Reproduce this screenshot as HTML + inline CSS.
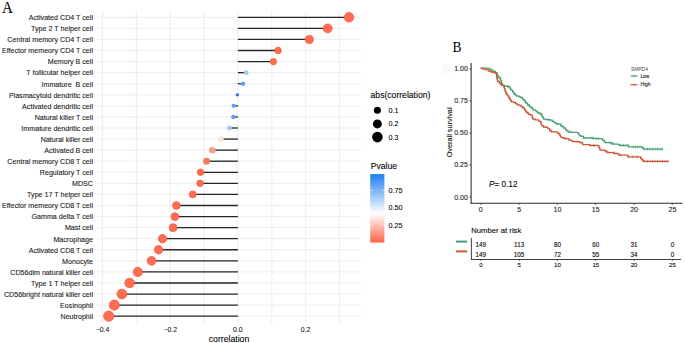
<!DOCTYPE html>
<html><head><meta charset="utf-8"><style>
html,body{margin:0;padding:0;background:#fff;}
svg{display:block;font-family:"Liberation Sans",sans-serif;}
text{stroke:#1a1a1a;stroke-width:0.1px;}
</style></head><body>
<svg width="685" height="343" viewBox="0 0 685 343">
<rect width="685" height="343" fill="#fff"/>
<text transform="translate(2.1,12.75) scale(0.93,1)" font-family="Liberation Serif" font-size="16.2" fill="#000" style="stroke:none">A</text>
<line x1="97.0" y1="17.30" x2="361.0" y2="17.30" stroke="#ebebeb" stroke-width="0.9"/>
<line x1="97.0" y1="28.37" x2="361.0" y2="28.37" stroke="#ebebeb" stroke-width="0.9"/>
<line x1="97.0" y1="39.44" x2="361.0" y2="39.44" stroke="#ebebeb" stroke-width="0.9"/>
<line x1="97.0" y1="50.51" x2="361.0" y2="50.51" stroke="#ebebeb" stroke-width="0.9"/>
<line x1="97.0" y1="61.58" x2="361.0" y2="61.58" stroke="#ebebeb" stroke-width="0.9"/>
<line x1="97.0" y1="72.65" x2="361.0" y2="72.65" stroke="#ebebeb" stroke-width="0.9"/>
<line x1="97.0" y1="83.72" x2="361.0" y2="83.72" stroke="#ebebeb" stroke-width="0.9"/>
<line x1="97.0" y1="94.79" x2="361.0" y2="94.79" stroke="#ebebeb" stroke-width="0.9"/>
<line x1="97.0" y1="105.86" x2="361.0" y2="105.86" stroke="#ebebeb" stroke-width="0.9"/>
<line x1="97.0" y1="116.93" x2="361.0" y2="116.93" stroke="#ebebeb" stroke-width="0.9"/>
<line x1="97.0" y1="128.00" x2="361.0" y2="128.00" stroke="#ebebeb" stroke-width="0.9"/>
<line x1="97.0" y1="139.07" x2="361.0" y2="139.07" stroke="#ebebeb" stroke-width="0.9"/>
<line x1="97.0" y1="150.14" x2="361.0" y2="150.14" stroke="#ebebeb" stroke-width="0.9"/>
<line x1="97.0" y1="161.21" x2="361.0" y2="161.21" stroke="#ebebeb" stroke-width="0.9"/>
<line x1="97.0" y1="172.28" x2="361.0" y2="172.28" stroke="#ebebeb" stroke-width="0.9"/>
<line x1="97.0" y1="183.35" x2="361.0" y2="183.35" stroke="#ebebeb" stroke-width="0.9"/>
<line x1="97.0" y1="194.42" x2="361.0" y2="194.42" stroke="#ebebeb" stroke-width="0.9"/>
<line x1="97.0" y1="205.49" x2="361.0" y2="205.49" stroke="#ebebeb" stroke-width="0.9"/>
<line x1="97.0" y1="216.56" x2="361.0" y2="216.56" stroke="#ebebeb" stroke-width="0.9"/>
<line x1="97.0" y1="227.63" x2="361.0" y2="227.63" stroke="#ebebeb" stroke-width="0.9"/>
<line x1="97.0" y1="238.70" x2="361.0" y2="238.70" stroke="#ebebeb" stroke-width="0.9"/>
<line x1="97.0" y1="249.77" x2="361.0" y2="249.77" stroke="#ebebeb" stroke-width="0.9"/>
<line x1="97.0" y1="260.84" x2="361.0" y2="260.84" stroke="#ebebeb" stroke-width="0.9"/>
<line x1="97.0" y1="271.91" x2="361.0" y2="271.91" stroke="#ebebeb" stroke-width="0.9"/>
<line x1="97.0" y1="282.98" x2="361.0" y2="282.98" stroke="#ebebeb" stroke-width="0.9"/>
<line x1="97.0" y1="294.05" x2="361.0" y2="294.05" stroke="#ebebeb" stroke-width="0.9"/>
<line x1="97.0" y1="305.12" x2="361.0" y2="305.12" stroke="#ebebeb" stroke-width="0.9"/>
<line x1="97.0" y1="316.19" x2="361.0" y2="316.19" stroke="#ebebeb" stroke-width="0.9"/>
<line x1="102.50" y1="10.7" x2="102.50" y2="322.9" stroke="#ebebeb" stroke-width="0.9"/>
<line x1="136.35" y1="10.7" x2="136.35" y2="322.9" stroke="#ebebeb" stroke-width="0.9"/>
<line x1="170.20" y1="10.7" x2="170.20" y2="322.9" stroke="#ebebeb" stroke-width="0.9"/>
<line x1="204.05" y1="10.7" x2="204.05" y2="322.9" stroke="#ebebeb" stroke-width="0.9"/>
<line x1="237.90" y1="10.7" x2="237.90" y2="322.9" stroke="#ebebeb" stroke-width="0.9"/>
<line x1="271.75" y1="10.7" x2="271.75" y2="322.9" stroke="#ebebeb" stroke-width="0.9"/>
<line x1="305.60" y1="10.7" x2="305.60" y2="322.9" stroke="#ebebeb" stroke-width="0.9"/>
<line x1="339.45" y1="10.7" x2="339.45" y2="322.9" stroke="#ebebeb" stroke-width="0.9"/>
<text x="93" y="20.10" text-anchor="end" font-size="7.13" fill="#1a1a1a" xml:space="preserve">Activated CD4 T cell</text>
<text x="93" y="31.17" text-anchor="end" font-size="7.13" fill="#1a1a1a" xml:space="preserve">Type 2 T helper cell</text>
<text x="93" y="42.24" text-anchor="end" font-size="7.13" fill="#1a1a1a" xml:space="preserve">Central memory CD4 T cell</text>
<text x="93" y="53.31" text-anchor="end" font-size="7.13" fill="#1a1a1a" xml:space="preserve">Effector memeory CD4 T cell</text>
<text x="93" y="64.38" text-anchor="end" font-size="7.13" fill="#1a1a1a" xml:space="preserve">Memory B cell</text>
<text x="93" y="75.45" text-anchor="end" font-size="7.13" fill="#1a1a1a" xml:space="preserve">T follicular helper cell</text>
<text x="93" y="86.52" text-anchor="end" font-size="7.13" fill="#1a1a1a" xml:space="preserve">Immature  B cell</text>
<text x="93" y="97.59" text-anchor="end" font-size="7.13" fill="#1a1a1a" xml:space="preserve">Plasmacytoid dendritic cell</text>
<text x="93" y="108.66" text-anchor="end" font-size="7.13" fill="#1a1a1a" xml:space="preserve">Activated dendritic cell</text>
<text x="93" y="119.73" text-anchor="end" font-size="7.13" fill="#1a1a1a" xml:space="preserve">Natural killer T cell</text>
<text x="93" y="130.80" text-anchor="end" font-size="7.13" fill="#1a1a1a" xml:space="preserve">Immature dendritic cell</text>
<text x="93" y="141.87" text-anchor="end" font-size="7.13" fill="#1a1a1a" xml:space="preserve">Natural killer cell</text>
<text x="93" y="152.94" text-anchor="end" font-size="7.13" fill="#1a1a1a" xml:space="preserve">Activated B cell</text>
<text x="93" y="164.01" text-anchor="end" font-size="7.13" fill="#1a1a1a" xml:space="preserve">Central memory CD8 T cell</text>
<text x="93" y="175.08" text-anchor="end" font-size="7.13" fill="#1a1a1a" xml:space="preserve">Regulatory T cell</text>
<text x="93" y="186.15" text-anchor="end" font-size="7.13" fill="#1a1a1a" xml:space="preserve">MDSC</text>
<text x="93" y="197.22" text-anchor="end" font-size="7.13" fill="#1a1a1a" xml:space="preserve">Type 17 T helper cell</text>
<text x="93" y="208.29" text-anchor="end" font-size="7.13" fill="#1a1a1a" xml:space="preserve">Effector memeory CD8 T cell</text>
<text x="93" y="219.36" text-anchor="end" font-size="7.13" fill="#1a1a1a" xml:space="preserve">Gamma delta T cell</text>
<text x="93" y="230.43" text-anchor="end" font-size="7.13" fill="#1a1a1a" xml:space="preserve">Mast cell</text>
<text x="93" y="241.50" text-anchor="end" font-size="7.13" fill="#1a1a1a" xml:space="preserve">Macrophage</text>
<text x="93" y="252.57" text-anchor="end" font-size="7.13" fill="#1a1a1a" xml:space="preserve">Activated CD8 T cell</text>
<text x="93" y="263.64" text-anchor="end" font-size="7.13" fill="#1a1a1a" xml:space="preserve">Monocyte</text>
<text x="93" y="274.71" text-anchor="end" font-size="7.13" fill="#1a1a1a" xml:space="preserve">CD56dim natural killer cell</text>
<text x="93" y="285.78" text-anchor="end" font-size="7.13" fill="#1a1a1a" xml:space="preserve">Type 1 T helper cell</text>
<text x="93" y="296.85" text-anchor="end" font-size="7.13" fill="#1a1a1a" xml:space="preserve">CD56bright natural killer cell</text>
<text x="93" y="307.92" text-anchor="end" font-size="7.13" fill="#1a1a1a" xml:space="preserve">Eosinophil</text>
<text x="93" y="318.99" text-anchor="end" font-size="7.13" fill="#1a1a1a" xml:space="preserve">Neutrophil</text>
<text x="102.50" y="332.1" text-anchor="middle" font-size="6.9" fill="#1a1a1a">−0.4</text>
<text x="170.20" y="332.1" text-anchor="middle" font-size="6.9" fill="#1a1a1a">−0.2</text>
<text x="237.90" y="332.1" text-anchor="middle" font-size="6.9" fill="#1a1a1a">0.0</text>
<text x="305.60" y="332.1" text-anchor="middle" font-size="6.9" fill="#1a1a1a">0.2</text>
<text x="229" y="341.6" text-anchor="middle" font-size="8.7" fill="#000">correlation</text>
<line x1="237.9" y1="17.30" x2="349.00" y2="17.30" stroke="#262626" stroke-width="1.3"/>
<line x1="237.9" y1="28.37" x2="327.70" y2="28.37" stroke="#262626" stroke-width="1.3"/>
<line x1="237.9" y1="39.44" x2="309.30" y2="39.44" stroke="#262626" stroke-width="1.3"/>
<line x1="237.9" y1="50.51" x2="278.00" y2="50.51" stroke="#262626" stroke-width="1.3"/>
<line x1="237.9" y1="61.58" x2="273.40" y2="61.58" stroke="#262626" stroke-width="1.3"/>
<line x1="237.9" y1="72.65" x2="246.20" y2="72.65" stroke="#262626" stroke-width="1.3"/>
<line x1="237.9" y1="83.72" x2="243.00" y2="83.72" stroke="#262626" stroke-width="1.3"/>
<line x1="237.9" y1="94.79" x2="237.40" y2="94.79" stroke="#262626" stroke-width="1.3"/>
<line x1="237.9" y1="105.86" x2="233.70" y2="105.86" stroke="#262626" stroke-width="1.3"/>
<line x1="237.9" y1="116.93" x2="233.30" y2="116.93" stroke="#262626" stroke-width="1.3"/>
<line x1="237.9" y1="128.00" x2="229.30" y2="128.00" stroke="#262626" stroke-width="1.3"/>
<line x1="237.9" y1="139.07" x2="220.90" y2="139.07" stroke="#262626" stroke-width="1.3"/>
<line x1="237.9" y1="150.14" x2="212.30" y2="150.14" stroke="#262626" stroke-width="1.3"/>
<line x1="237.9" y1="161.21" x2="206.50" y2="161.21" stroke="#262626" stroke-width="1.3"/>
<line x1="237.9" y1="172.28" x2="200.50" y2="172.28" stroke="#262626" stroke-width="1.3"/>
<line x1="237.9" y1="183.35" x2="200.10" y2="183.35" stroke="#262626" stroke-width="1.3"/>
<line x1="237.9" y1="194.42" x2="192.70" y2="194.42" stroke="#262626" stroke-width="1.3"/>
<line x1="237.9" y1="205.49" x2="176.40" y2="205.49" stroke="#262626" stroke-width="1.3"/>
<line x1="237.9" y1="216.56" x2="174.90" y2="216.56" stroke="#262626" stroke-width="1.3"/>
<line x1="237.9" y1="227.63" x2="173.10" y2="227.63" stroke="#262626" stroke-width="1.3"/>
<line x1="237.9" y1="238.70" x2="162.50" y2="238.70" stroke="#262626" stroke-width="1.3"/>
<line x1="237.9" y1="249.77" x2="158.50" y2="249.77" stroke="#262626" stroke-width="1.3"/>
<line x1="237.9" y1="260.84" x2="151.50" y2="260.84" stroke="#262626" stroke-width="1.3"/>
<line x1="237.9" y1="271.91" x2="137.80" y2="271.91" stroke="#262626" stroke-width="1.3"/>
<line x1="237.9" y1="282.98" x2="129.60" y2="282.98" stroke="#262626" stroke-width="1.3"/>
<line x1="237.9" y1="294.05" x2="121.90" y2="294.05" stroke="#262626" stroke-width="1.3"/>
<line x1="237.9" y1="305.12" x2="114.30" y2="305.12" stroke="#262626" stroke-width="1.3"/>
<line x1="237.9" y1="316.19" x2="108.70" y2="316.19" stroke="#262626" stroke-width="1.3"/>
<circle cx="349.00" cy="17.30" r="4.81" fill="#ff6d53" stroke="#fb5434" stroke-width="0.75"/>
<circle cx="327.70" cy="28.37" r="4.43" fill="#ff6d53" stroke="#fb5434" stroke-width="0.75"/>
<circle cx="309.30" cy="39.44" r="4.06" fill="#ff6d53" stroke="#fb5434" stroke-width="0.75"/>
<circle cx="278.00" cy="50.51" r="3.31" fill="#ff6d53" stroke="#fb5434" stroke-width="0.75"/>
<circle cx="273.40" cy="61.58" r="3.18" fill="#ff6d53" stroke="#fb5434" stroke-width="0.75"/>
<circle cx="246.20" cy="72.65" r="2.43" fill="#a2c9fa"/>
<circle cx="243.00" cy="83.72" r="2.21" fill="#60a2f7"/>
<circle cx="237.40" cy="94.79" r="1.66" fill="#1e74ee"/>
<circle cx="233.70" cy="105.86" r="2.14" fill="#5c9ff7"/>
<circle cx="233.30" cy="116.93" r="2.17" fill="#5c9ff7"/>
<circle cx="229.30" cy="128.00" r="2.45" fill="#a2c9fa"/>
<circle cx="220.90" cy="139.07" r="2.88" fill="#fce3da"/>
<circle cx="212.30" cy="150.14" r="3.21" fill="#fa9a82"/>
<circle cx="206.50" cy="161.21" r="3.40" fill="#fa7659"/>
<circle cx="200.50" cy="172.28" r="3.23" fill="#ff6d53" stroke="#fb5434" stroke-width="0.75"/>
<circle cx="200.10" cy="183.35" r="3.25" fill="#ff6d53" stroke="#fb5434" stroke-width="0.75"/>
<circle cx="192.70" cy="194.42" r="3.45" fill="#ff6d53" stroke="#fb5434" stroke-width="0.75"/>
<circle cx="176.40" cy="205.49" r="3.85" fill="#ff6d53" stroke="#fb5434" stroke-width="0.75"/>
<circle cx="174.90" cy="216.56" r="3.88" fill="#ff6d53" stroke="#fb5434" stroke-width="0.75"/>
<circle cx="173.10" cy="227.63" r="3.92" fill="#ff6d53" stroke="#fb5434" stroke-width="0.75"/>
<circle cx="162.50" cy="238.70" r="4.15" fill="#ff6d53" stroke="#fb5434" stroke-width="0.75"/>
<circle cx="158.50" cy="249.77" r="4.23" fill="#ff6d53" stroke="#fb5434" stroke-width="0.75"/>
<circle cx="151.50" cy="260.84" r="4.36" fill="#ff6d53" stroke="#fb5434" stroke-width="0.75"/>
<circle cx="137.80" cy="271.91" r="4.62" fill="#ff6d53" stroke="#fb5434" stroke-width="0.75"/>
<circle cx="129.60" cy="282.98" r="4.76" fill="#ff6d53" stroke="#fb5434" stroke-width="0.75"/>
<circle cx="121.90" cy="294.05" r="4.89" fill="#ff6d53" stroke="#fb5434" stroke-width="0.75"/>
<circle cx="114.30" cy="305.12" r="5.01" fill="#ff6d53" stroke="#fb5434" stroke-width="0.75"/>
<circle cx="108.70" cy="316.19" r="5.10" fill="#ff6d53" stroke="#fb5434" stroke-width="0.75"/>
<text x="370.6" y="98.2" font-size="8.6" fill="#000">abs(correlation)</text>
<circle cx="377.4" cy="110.3" r="3.5" fill="#000"/>
<text x="388.6" y="112.85" font-size="7.2" fill="#000">0.1</text>
<circle cx="377.4" cy="123.9" r="4.5" fill="#000"/>
<text x="388.6" y="126.45" font-size="7.2" fill="#000">0.2</text>
<circle cx="377.4" cy="137.1" r="5.3" fill="#000"/>
<text x="388.6" y="139.65" font-size="7.2" fill="#000">0.3</text>
<text x="370.8" y="168.7" font-size="8.6" fill="#000">Pvalue</text>
<defs><linearGradient id="cb" x1="0" y1="0" x2="0" y2="1"><stop offset="0.000" stop-color="#1e7ef2"/><stop offset="0.025" stop-color="#2884f3"/><stop offset="0.050" stop-color="#3289f3"/><stop offset="0.075" stop-color="#3c8ff4"/><stop offset="0.100" stop-color="#4595f4"/><stop offset="0.125" stop-color="#4f9af5"/><stop offset="0.150" stop-color="#59a0f5"/><stop offset="0.175" stop-color="#63a6f6"/><stop offset="0.200" stop-color="#6dabf7"/><stop offset="0.225" stop-color="#77b1f7"/><stop offset="0.250" stop-color="#80b6f8"/><stop offset="0.275" stop-color="#8abcf8"/><stop offset="0.300" stop-color="#94c2f9"/><stop offset="0.325" stop-color="#9ec7f9"/><stop offset="0.350" stop-color="#a8cdfa"/><stop offset="0.375" stop-color="#b2d3fb"/><stop offset="0.400" stop-color="#bcd8fb"/><stop offset="0.425" stop-color="#c5defc"/><stop offset="0.450" stop-color="#cfe4fc"/><stop offset="0.475" stop-color="#d9e9fd"/><stop offset="0.500" stop-color="#e3effd"/><stop offset="0.525" stop-color="#edf5fe"/><stop offset="0.550" stop-color="#f7faff"/><stop offset="0.575" stop-color="#fffefd"/><stop offset="0.600" stop-color="#fff5f3"/><stop offset="0.625" stop-color="#ffebe8"/><stop offset="0.650" stop-color="#ffe2dd"/><stop offset="0.675" stop-color="#ffd9d3"/><stop offset="0.700" stop-color="#ffd0c8"/><stop offset="0.725" stop-color="#ffc7bd"/><stop offset="0.750" stop-color="#ffbeb2"/><stop offset="0.775" stop-color="#ffb5a8"/><stop offset="0.800" stop-color="#ffac9d"/><stop offset="0.825" stop-color="#ffa392"/><stop offset="0.850" stop-color="#ff9a87"/><stop offset="0.875" stop-color="#ff917d"/><stop offset="0.900" stop-color="#ff8772"/><stop offset="0.925" stop-color="#ff7e67"/><stop offset="0.950" stop-color="#ff755c"/><stop offset="0.975" stop-color="#ff6c52"/><stop offset="1.000" stop-color="#ff6347"/></linearGradient></defs>
<rect x="370.2" y="174.1" width="14.2" height="68.5" fill="url(#cb)"/>
<line x1="370.2" y1="190.3" x2="373" y2="190.3" stroke="#fff" stroke-width="0.6"/>
<line x1="381.6" y1="190.3" x2="384.4" y2="190.3" stroke="#fff" stroke-width="0.6"/>
<text x="388.6" y="192.85" font-size="7.2" fill="#000">0.75</text>
<line x1="370.2" y1="207.6" x2="373" y2="207.6" stroke="#fff" stroke-width="0.6"/>
<line x1="381.6" y1="207.6" x2="384.4" y2="207.6" stroke="#fff" stroke-width="0.6"/>
<text x="388.6" y="210.15" font-size="7.2" fill="#000">0.50</text>
<line x1="370.2" y1="225.0" x2="373" y2="225.0" stroke="#fff" stroke-width="0.6"/>
<line x1="381.6" y1="225.0" x2="384.4" y2="225.0" stroke="#fff" stroke-width="0.6"/>
<text x="388.6" y="227.55" font-size="7.2" fill="#000">0.25</text>
<rect x="442.1" y="65" width="8" height="8.7" fill="#f9f9f9"/>
<text transform="translate(452.6,51.95) scale(0.9,1)" font-family="Liberation Serif" font-size="15" fill="#000" style="stroke:none">B</text>
<line x1="471.1" y1="62.9" x2="471.1" y2="203.7" stroke="#2a2a2a" stroke-width="1.05"/>
<line x1="470.6" y1="203.2" x2="682.4" y2="203.2" stroke="#2a2a2a" stroke-width="1.05"/>
<line x1="469.6" y1="69.00" x2="471.1" y2="69.00" stroke="#2a2a2a" stroke-width="0.9"/>
<text x="467.8" y="71.40" text-anchor="end" font-size="7.0" fill="#222">1.00</text>
<line x1="469.6" y1="101.03" x2="471.1" y2="101.03" stroke="#2a2a2a" stroke-width="0.9"/>
<text x="467.8" y="103.43" text-anchor="end" font-size="7.0" fill="#222">0.75</text>
<line x1="469.6" y1="133.05" x2="471.1" y2="133.05" stroke="#2a2a2a" stroke-width="0.9"/>
<text x="467.8" y="135.45" text-anchor="end" font-size="7.0" fill="#222">0.50</text>
<line x1="469.6" y1="165.07" x2="471.1" y2="165.07" stroke="#2a2a2a" stroke-width="0.9"/>
<text x="467.8" y="167.47" text-anchor="end" font-size="7.0" fill="#222">0.25</text>
<line x1="469.6" y1="197.10" x2="471.1" y2="197.10" stroke="#2a2a2a" stroke-width="0.9"/>
<text x="467.8" y="199.50" text-anchor="end" font-size="7.0" fill="#222">0.00</text>
<line x1="480.80" y1="203.2" x2="480.80" y2="204.7" stroke="#2a2a2a" stroke-width="0.9"/>
<text x="480.80" y="212.2" text-anchor="middle" font-size="7.0" fill="#222">0</text>
<line x1="519.12" y1="203.2" x2="519.12" y2="204.7" stroke="#2a2a2a" stroke-width="0.9"/>
<text x="519.12" y="212.2" text-anchor="middle" font-size="7.0" fill="#222">5</text>
<line x1="557.44" y1="203.2" x2="557.44" y2="204.7" stroke="#2a2a2a" stroke-width="0.9"/>
<text x="557.44" y="212.2" text-anchor="middle" font-size="7.0" fill="#222">10</text>
<line x1="595.76" y1="203.2" x2="595.76" y2="204.7" stroke="#2a2a2a" stroke-width="0.9"/>
<text x="595.76" y="212.2" text-anchor="middle" font-size="7.0" fill="#222">15</text>
<line x1="634.08" y1="203.2" x2="634.08" y2="204.7" stroke="#2a2a2a" stroke-width="0.9"/>
<text x="634.08" y="212.2" text-anchor="middle" font-size="7.0" fill="#222">20</text>
<line x1="672.40" y1="203.2" x2="672.40" y2="204.7" stroke="#2a2a2a" stroke-width="0.9"/>
<text x="672.40" y="212.2" text-anchor="middle" font-size="7.0" fill="#222">25</text>
<text transform="translate(451.6,132.4) rotate(-90)" text-anchor="middle" font-size="7.3" fill="#000">Overall survival</text>
<text x="489" y="187.4" font-size="8.2" fill="#000"><tspan font-style="italic">P</tspan>= 0.12</text>
<path d="M480.60,68.20 L486.70,68.20 L490.20,68.50 L490.20,69.90 L492.90,69.90 L492.90,71.40 L495.50,71.40 L495.50,72.70 L496.80,72.70 L496.80,74.00 L497.37,74.00 L497.37,75.17 L497.93,75.17 L497.93,76.33 L498.50,76.33 L498.50,77.50 L500.30,77.50 L500.30,79.30 L500.75,79.30 L500.75,80.60 L501.20,80.60 L501.20,81.90 L501.63,81.90 L501.63,83.07 L502.07,83.07 L502.07,84.23 L502.50,84.23 L502.50,85.40 L504.70,85.40 L504.70,86.30 L507.50,86.30 L509.20,86.30 L509.20,87.50 L510.10,87.50 L510.10,88.80 L511.00,88.80 L511.00,90.10 L512.70,90.10 L512.70,91.90 L513.60,91.90 L513.60,93.20 L514.50,93.20 L514.50,94.50 L516.20,94.50 L516.20,95.80 L518.40,95.80 L518.40,96.40 L520.20,96.40 L520.20,97.30 L521.90,97.30 L521.90,98.00 L522.80,98.00 L522.80,99.70 L524.50,99.70 L524.50,101.00 L525.20,101.00 L525.20,102.10 L525.90,102.10 L525.90,103.20 L527.60,103.20 L527.60,105.00 L529.30,105.00 L529.30,106.70 L531.10,106.70 L531.10,108.00 L532.80,108.00 L532.80,109.80 L535.50,109.80 L535.50,110.90 L536.65,110.90 L536.65,111.95 L537.80,111.95 L537.80,113.00 L540.00,113.00 L540.00,114.00 L541.70,114.00 L541.70,115.20 L542.15,115.20 L542.15,116.30 L542.60,116.30 L542.60,117.40 L543.50,117.40 L543.50,119.10 L545.70,119.10 L545.70,119.60 L548.30,119.60 L550.00,119.60 L550.00,120.20 L552.20,120.20 L552.20,121.30 L554.00,121.30 L554.00,122.60 L556.20,122.60 L556.20,124.00 L559.90,124.00 L560.80,124.30 L560.80,125.50 L561.70,125.50 L561.70,126.70 L563.90,126.70 L563.90,128.10 L565.60,128.10 L565.60,129.80 L566.90,129.80 L566.90,130.90 L568.20,130.90 L568.20,132.00 L571.30,132.00 L571.30,132.40 L576.50,132.40 L578.30,132.70 L578.30,134.20 L579.60,134.20 L579.60,135.90 L581.80,135.90 L581.80,136.40 L583.50,136.40 L583.50,138.00 L588.00,138.00 L593.20,138.00 L593.20,138.60 L601.10,138.60 L602.40,138.60 L602.40,140.10 L604.20,140.10 L604.20,141.80 L605.50,141.80 L605.50,142.70 L609.90,142.70 L611.60,142.90 L611.60,143.50 L613.30,143.50 L613.30,144.20 L617.90,144.20 L619.20,144.50 L619.20,145.40 L627.10,145.40 L628.40,145.30 L628.40,146.90 L641.10,146.90 L642.40,146.90 L642.40,148.20 L643.70,148.20 L643.70,149.10 L663.00,149.10" fill="none" stroke="#47a070" stroke-width="1.3" stroke-linejoin="miter"/>
<path d="M480.60,68.40 L483.20,68.40 L483.20,69.10 L486.30,69.10 L486.30,69.90 L488.50,69.90 L488.50,71.00 L491.10,71.00 L491.10,72.00 L493.30,72.00 L493.30,72.70 L495.50,72.70 L495.50,73.20 L496.40,73.20 L496.40,74.50 L496.53,74.50 L496.53,75.67 L496.67,75.67 L496.67,76.83 L496.80,76.83 L496.80,78.00 L497.10,78.00 L497.10,79.17 L497.40,79.17 L497.40,80.33 L497.70,80.33 L497.70,81.50 L499.40,81.50 L499.40,83.20 L500.50,83.20 L500.50,84.30 L501.60,84.30 L501.60,85.40 L503.80,85.40 L503.80,87.20 L504.35,87.20 L504.35,88.65 L504.90,88.65 L504.90,90.10 L505.33,90.10 L505.33,91.27 L505.77,91.27 L505.77,92.43 L506.20,92.43 L506.20,93.60 L507.05,93.60 L507.05,94.90 L507.90,94.90 L507.90,96.20 L508.80,96.20 L508.80,97.75 L509.70,97.75 L509.70,99.30 L510.55,99.30 L510.55,100.60 L511.40,100.60 L511.40,101.90 L513.60,101.90 L513.60,102.40 L515.40,102.40 L515.40,103.70 L517.10,103.70 L517.10,104.80 L519.30,104.80 L519.30,105.40 L521.00,105.40 L521.00,106.60 L522.80,106.60 L522.80,108.00 L524.50,108.00 L524.50,109.80 L525.40,109.80 L525.40,110.90 L526.30,110.90 L526.30,112.00 L526.90,112.00 L526.90,113.00 L528.60,113.00 L528.60,114.30 L530.80,114.30 L530.80,115.20 L532.10,115.20 L532.10,116.90 L532.55,116.90 L532.55,118.00 L533.00,118.00 L533.00,119.10 L535.20,119.10 L535.20,119.80 L537.40,119.80 L539.10,120.00 L539.10,121.30 L540.90,121.30 L540.90,123.00 L541.30,123.00 L541.30,124.35 L541.70,124.35 L541.70,125.70 L543.50,125.70 L543.50,127.00 L546.10,127.00 L546.10,127.40 L547.90,127.40 L547.90,128.70 L549.60,128.70 L549.60,130.50 L551.30,130.50 L551.30,131.80 L554.00,131.80 L556.20,131.80 L556.20,132.20 L557.70,132.20 L557.70,133.30 L559.50,133.30 L559.50,135.00 L560.35,135.00 L560.35,136.35 L561.20,136.35 L561.20,137.70 L563.90,137.70 L563.90,138.50 L566.50,138.50 L568.70,138.80 L568.70,139.90 L570.90,139.90 L570.90,140.70 L572.60,140.70 L572.60,141.60 L577.90,141.60 L579.60,141.60 L579.60,142.50 L582.20,142.50 L582.20,143.30 L582.70,143.30 L582.70,144.70 L587.50,144.70 L589.70,144.70 L589.70,145.50 L597.60,145.50 L598.90,145.80 L598.90,147.50 L599.55,147.50 L599.55,148.80 L600.20,148.80 L600.20,150.10 L604.20,150.10 L604.20,150.50 L605.90,150.50 L605.90,151.90 L608.10,151.90 L608.10,152.60 L611.60,152.60 L614.20,152.90 L614.20,153.50 L617.50,153.50 L617.50,153.90 L618.80,153.90 L618.80,155.10 L626.20,155.10 L628.00,155.40 L628.00,156.80 L637.60,156.80 L640.70,156.80 L640.70,158.30 L641.55,158.30 L641.55,159.40 L642.40,159.40 L642.40,160.50 L643.70,160.50 L643.70,161.30 L669.00,161.30" fill="none" stroke="#cf5538" stroke-width="1.3" stroke-linejoin="miter"/>
<line x1="507.5" y1="84.80" x2="507.5" y2="87.80" stroke="#47a070" stroke-width="0.65"/>
<line x1="548.3" y1="118.10" x2="548.3" y2="121.10" stroke="#47a070" stroke-width="0.65"/>
<line x1="592" y1="136.50" x2="592" y2="139.50" stroke="#47a070" stroke-width="0.65"/>
<line x1="596" y1="137.10" x2="596" y2="140.10" stroke="#47a070" stroke-width="0.65"/>
<line x1="598.5" y1="137.10" x2="598.5" y2="140.10" stroke="#47a070" stroke-width="0.65"/>
<line x1="610" y1="141.20" x2="610" y2="144.20" stroke="#47a070" stroke-width="0.65"/>
<line x1="612" y1="142.00" x2="612" y2="145.00" stroke="#47a070" stroke-width="0.65"/>
<line x1="621" y1="143.90" x2="621" y2="146.90" stroke="#47a070" stroke-width="0.65"/>
<line x1="623.5" y1="143.90" x2="623.5" y2="146.90" stroke="#47a070" stroke-width="0.65"/>
<line x1="626" y1="143.90" x2="626" y2="146.90" stroke="#47a070" stroke-width="0.65"/>
<line x1="633" y1="145.40" x2="633" y2="148.40" stroke="#47a070" stroke-width="0.65"/>
<line x1="635.5" y1="145.40" x2="635.5" y2="148.40" stroke="#47a070" stroke-width="0.65"/>
<line x1="637.5" y1="145.40" x2="637.5" y2="148.40" stroke="#47a070" stroke-width="0.65"/>
<line x1="640" y1="145.40" x2="640" y2="148.40" stroke="#47a070" stroke-width="0.65"/>
<line x1="645" y1="147.60" x2="645" y2="150.60" stroke="#47a070" stroke-width="0.65"/>
<line x1="647.5" y1="147.60" x2="647.5" y2="150.60" stroke="#47a070" stroke-width="0.65"/>
<line x1="650" y1="147.60" x2="650" y2="150.60" stroke="#47a070" stroke-width="0.65"/>
<line x1="652.5" y1="147.60" x2="652.5" y2="150.60" stroke="#47a070" stroke-width="0.65"/>
<line x1="655" y1="147.60" x2="655" y2="150.60" stroke="#47a070" stroke-width="0.65"/>
<line x1="657.5" y1="147.60" x2="657.5" y2="150.60" stroke="#47a070" stroke-width="0.65"/>
<line x1="660" y1="147.60" x2="660" y2="150.60" stroke="#47a070" stroke-width="0.65"/>
<line x1="662.3" y1="147.60" x2="662.3" y2="150.60" stroke="#47a070" stroke-width="0.65"/>
<line x1="577" y1="140.10" x2="577" y2="143.10" stroke="#cf5538" stroke-width="0.65"/>
<line x1="594" y1="144.00" x2="594" y2="147.00" stroke="#cf5538" stroke-width="0.65"/>
<line x1="607" y1="150.40" x2="607" y2="153.40" stroke="#cf5538" stroke-width="0.65"/>
<line x1="614" y1="151.10" x2="614" y2="154.10" stroke="#cf5538" stroke-width="0.65"/>
<line x1="621" y1="153.60" x2="621" y2="156.60" stroke="#cf5538" stroke-width="0.65"/>
<line x1="628.5" y1="155.30" x2="628.5" y2="158.30" stroke="#cf5538" stroke-width="0.65"/>
<line x1="633" y1="155.30" x2="633" y2="158.30" stroke="#cf5538" stroke-width="0.65"/>
<line x1="637.3" y1="155.30" x2="637.3" y2="158.30" stroke="#cf5538" stroke-width="0.65"/>
<line x1="645" y1="159.80" x2="645" y2="162.80" stroke="#cf5538" stroke-width="0.65"/>
<line x1="647.5" y1="159.80" x2="647.5" y2="162.80" stroke="#cf5538" stroke-width="0.65"/>
<line x1="650" y1="159.80" x2="650" y2="162.80" stroke="#cf5538" stroke-width="0.65"/>
<line x1="652.5" y1="159.80" x2="652.5" y2="162.80" stroke="#cf5538" stroke-width="0.65"/>
<line x1="655" y1="159.80" x2="655" y2="162.80" stroke="#cf5538" stroke-width="0.65"/>
<line x1="657.5" y1="159.80" x2="657.5" y2="162.80" stroke="#cf5538" stroke-width="0.65"/>
<line x1="660" y1="159.80" x2="660" y2="162.80" stroke="#cf5538" stroke-width="0.65"/>
<line x1="662.5" y1="159.80" x2="662.5" y2="162.80" stroke="#cf5538" stroke-width="0.65"/>
<line x1="665" y1="159.80" x2="665" y2="162.80" stroke="#cf5538" stroke-width="0.65"/>
<line x1="667.5" y1="159.80" x2="667.5" y2="162.80" stroke="#cf5538" stroke-width="0.65"/>
<text x="631" y="70.8" font-size="4.9" fill="#444" style="stroke:none">SMPD4</text>
<line x1="630.5" y1="76" x2="637.5" y2="76" stroke="#47a070" stroke-width="1.2"/>
<line x1="634" y1="74.6" x2="634" y2="77.4" stroke="#47a070" stroke-width="0.6"/>
<line x1="630.5" y1="84.7" x2="637.5" y2="84.7" stroke="#cf5538" stroke-width="1.2"/>
<line x1="634" y1="83.3" x2="634" y2="86.1" stroke="#cf5538" stroke-width="0.6"/>
<text x="640.4" y="77.7" font-size="4.9" fill="#222">Low</text>
<text x="640.4" y="86.4" font-size="4.9" fill="#222">High</text>
<text x="471.3" y="233.2" font-size="7.7" fill="#000">Number at risk</text>
<line x1="455.9" y1="241.6" x2="467.1" y2="241.6" stroke="#47a070" stroke-width="2"/>
<line x1="455.9" y1="251.4" x2="467.1" y2="251.4" stroke="#cf5538" stroke-width="2"/>
<line x1="471.4" y1="238.1" x2="471.4" y2="259.9" stroke="#2a2a2a" stroke-width="0.9"/>
<line x1="470.95" y1="259.5" x2="681" y2="259.5" stroke="#2a2a2a" stroke-width="0.9"/>
<text x="480.80" y="246.9" text-anchor="middle" font-size="6.3" fill="#000">149</text>
<text x="480.80" y="256.7" text-anchor="middle" font-size="6.3" fill="#000">149</text>
<line x1="480.80" y1="259.5" x2="480.80" y2="260.8" stroke="#2a2a2a" stroke-width="0.8"/>
<text x="480.80" y="267.0" text-anchor="middle" font-size="6.0" fill="#000">0</text>
<text x="519.12" y="246.9" text-anchor="middle" font-size="6.3" fill="#000">113</text>
<text x="519.12" y="256.7" text-anchor="middle" font-size="6.3" fill="#000">105</text>
<line x1="519.12" y1="259.5" x2="519.12" y2="260.8" stroke="#2a2a2a" stroke-width="0.8"/>
<text x="519.12" y="267.0" text-anchor="middle" font-size="6.0" fill="#000">5</text>
<text x="557.44" y="246.9" text-anchor="middle" font-size="6.3" fill="#000">80</text>
<text x="557.44" y="256.7" text-anchor="middle" font-size="6.3" fill="#000">72</text>
<line x1="557.44" y1="259.5" x2="557.44" y2="260.8" stroke="#2a2a2a" stroke-width="0.8"/>
<text x="557.44" y="267.0" text-anchor="middle" font-size="6.0" fill="#000">10</text>
<text x="595.76" y="246.9" text-anchor="middle" font-size="6.3" fill="#000">60</text>
<text x="595.76" y="256.7" text-anchor="middle" font-size="6.3" fill="#000">55</text>
<line x1="595.76" y1="259.5" x2="595.76" y2="260.8" stroke="#2a2a2a" stroke-width="0.8"/>
<text x="595.76" y="267.0" text-anchor="middle" font-size="6.0" fill="#000">15</text>
<text x="634.08" y="246.9" text-anchor="middle" font-size="6.3" fill="#000">31</text>
<text x="634.08" y="256.7" text-anchor="middle" font-size="6.3" fill="#000">34</text>
<line x1="634.08" y1="259.5" x2="634.08" y2="260.8" stroke="#2a2a2a" stroke-width="0.8"/>
<text x="634.08" y="267.0" text-anchor="middle" font-size="6.0" fill="#000">20</text>
<text x="672.40" y="246.9" text-anchor="middle" font-size="6.3" fill="#000">0</text>
<text x="672.40" y="256.7" text-anchor="middle" font-size="6.3" fill="#000">0</text>
<line x1="672.40" y1="259.5" x2="672.40" y2="260.8" stroke="#2a2a2a" stroke-width="0.8"/>
<text x="672.40" y="267.0" text-anchor="middle" font-size="6.0" fill="#000">25</text>
</svg>
</body></html>
